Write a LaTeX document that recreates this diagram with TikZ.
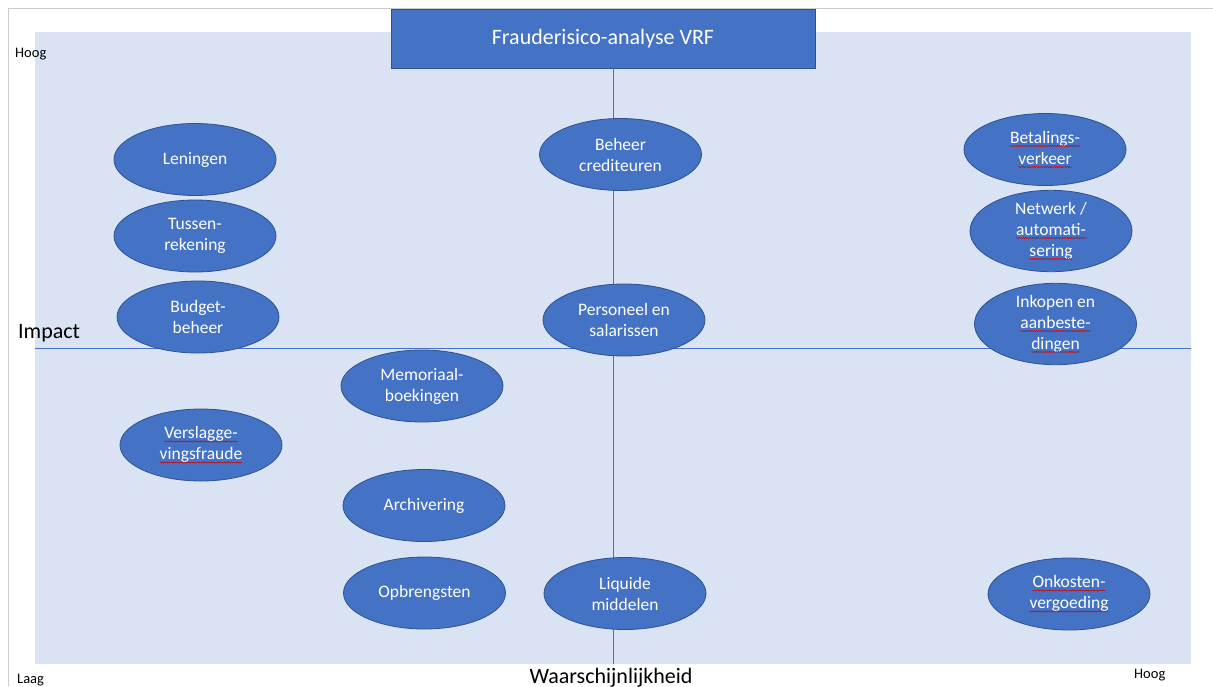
\documentclass[tikz,border=0pt]{standalone}
\usepackage{fontspec}
\setmainfont{Carlito}
\usetikzlibrary{shapes.geometric,decorations.pathmorphing}
\definecolor{bgblue}{HTML}{DAE3F3}
\definecolor{ofblue}{HTML}{4472C4}
\definecolor{ofborder}{HTML}{2F528F}
\newcommand\spl[1]{\tikz[baseline=(w.base)]{\node[shape=rectangle, draw=none, fill=none, inner sep=0pt, outer sep=0pt, minimum width=0pt, minimum height=0pt, text=white] (w) {#1};
  \draw[red!85!black, line width=0.5pt, decorate, decoration={snake, amplitude=0.55pt, segment length=2.2pt}] ([yshift=-2.6pt]w.base west) -- ([yshift=-2.6pt]w.base east);}}
\begin{document}
\begin{tikzpicture}[x=1pt,y=-1pt,
  risk/.style={ellipse, fill=ofblue, draw=ofborder, line width=0.8pt, minimum width=162pt, minimum height=72pt, inner sep=0pt, text=white, align=center, font=\fontsize{17.5}{21}\selectfont},
  titlebox/.style={rectangle, fill=ofblue, draw=ofborder, line width=0.8pt, minimum width=424pt, minimum height=59pt, inner sep=0pt, text=white, font=\fontsize{22}{26}\selectfont},
  axis/.style={draw=ofblue, line width=0.8pt},
  small/.style={inner sep=0pt, text=black, font=\fontsize{14.5}{17}\selectfont},
  big/.style={inner sep=0pt, text=black, font=\fontsize{22}{26}\selectfont}]
\useasboundingbox (0,0) rectangle (1213,686);
\fill[white] (0,0) rectangle (1213,686);
\draw[black!20, line width=1pt] (8,686) -- (8,8) -- (1213,8);
\fill[bgblue] (35,32) rectangle (1191,664);
\node[titlebox] (title) at (603,38.5) {Frauderisico-analyse VRF};
\coordinate (vb) at (613,664);
\coordinate (hl) at (35,348);
\coordinate (hr) at (1191,348);
\draw[axis] (title.south -| vb) -- (vb);
\draw[axis] (hl) -- (hr);
% left column
\node[risk] (len) at (195,159.5) {Leningen};
\node[risk] (tus) at (195,236) {Tussen-\\rekening};
\node[risk] (bud) at (198,317) {Budget-\\beheer};
\node[risk] (ver) at (201,445) {\spl{Verslagge-}\\\spl{vingsfraude}};
% second column
\node[risk] (mem) at (422,386) {Memoriaal-\\boekingen};
\node[risk] (arc) at (424,505.5) {Archivering};
\node[risk] (opb) at (424.5,593) {Opbrengsten};
% middle column
\node[risk] (beh) at (620.5,154.5) {Beheer\\crediteuren};
\node[risk] (per) at (624,320) {Personeel en\\salarissen};
\node[risk] (liq) at (625,593.5) {Liquide\\middelen};
% right column
\node[risk] (bet) at (1045,149.5) {\spl{Betalings-}\\\spl{verkeer}};
\node[risk] (net) at (1051,231) {Netwerk /\\\spl{automati-}\\\spl{sering}};
\node[risk] (ink) at (1055.5,324) {Inkopen en\\\spl{aanbeste-}\\\spl{dingen}};
\node[risk] (onk) at (1069,594) {\spl{Onkosten-}\\\spl{vergoeding}};
% axis labels
\node[small, anchor=base west] (hoogl) at (15,57) {Hoog};
\node[small, anchor=base west] (laag) at (17,683) {Laag};
\node[small, anchor=base west] (hoogr) at (1134,678) {Hoog};
\node[big, anchor=base west] (imp) at (18,338) {Impact};
\node[big, anchor=base] (waar) at (611,683) {Waarschijnlijkheid};
\end{tikzpicture}
\end{document}
